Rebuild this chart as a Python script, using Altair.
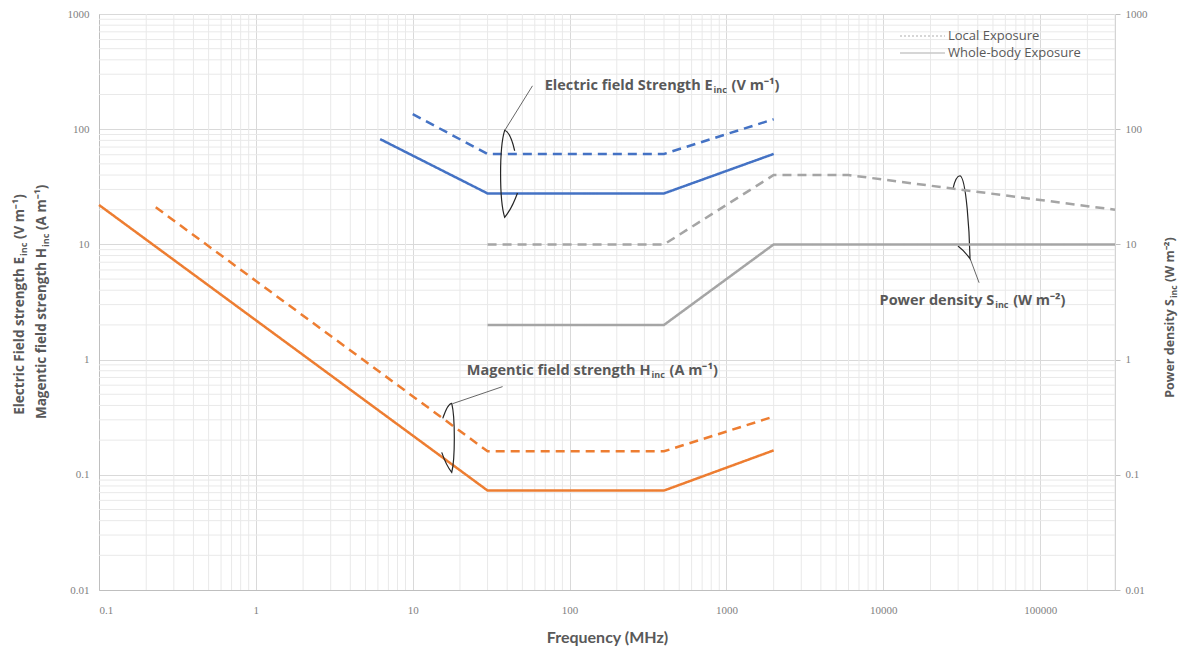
import altair as alt
import pandas as pd

# ---------------- data ----------------
LOCAL = "Local Exposure"
WHOLE = "Whole-body Exposure"

# Electric field strength E_inc (V m-1)
E_WHOLE_FREQ = [6.2, 30, 400, 2000]
E_WHOLE_VAL = [82, 27.7, 27.7, 61]
E_LOCAL_FREQ = [10, 30, 400, 2000]
E_LOCAL_VAL = [135, 61, 61, 122]

# Magnetic field strength H_inc (A m-1)
H_WHOLE_FREQ = [0.1, 30, 400, 2000]
H_WHOLE_VAL = [22, 0.073, 0.073, 0.163]
H_LOCAL_FREQ = [0.23, 30, 400, 2000]
H_LOCAL_VAL = [21, 0.16, 0.16, 0.32]

# Power density S_inc (W m-2) -- right axis
S_WHOLE_FREQ = [30, 400, 2000, 300000]
S_WHOLE_VAL = [2, 2, 10, 10]
S_LOCAL_FREQ = [30, 400, 2000, 6000, 300000]
S_LOCAL_VAL = [10, 10, 40, 40, 20]

X_TICKS = [0.1, 1, 10, 100, 1000, 10000, 100000]
Y_TICKS = [0.01, 0.1, 1, 10, 100, 1000]
X_DOMAIN = [0.1, 300000]
Y_DOMAIN = [0.01, 1000]
MINOR_STEPS = [2, 3, 4, 5, 6, 7, 8, 9]

X_MINOR = [k * d for d in X_TICKS for k in MINOR_STEPS if k * d <= X_DOMAIN[1]]
Y_MINOR = [k * d for d in Y_TICKS[:-1] for k in MINOR_STEPS]

BLUE, ORANGE, GREY = "#4472C4", "#ED7D31", "#A5A5A5"
TXT = "#595959"
FONT = "Open Sans"
TICKFONT = "Liberation Serif"


def series(q, exp, freqs, vals):
    return pd.DataFrame({"quantity": q, "exposure": exp, "freq": freqs, "value": vals})


left_df = pd.concat([
    series("E", WHOLE, E_WHOLE_FREQ, E_WHOLE_VAL),
    series("E", LOCAL, E_LOCAL_FREQ, E_LOCAL_VAL),
    series("H", WHOLE, H_WHOLE_FREQ, H_WHOLE_VAL),
    series("H", LOCAL, H_LOCAL_FREQ, H_LOCAL_VAL),
])
right_df = pd.concat([
    series("S", WHOLE, S_WHOLE_FREQ, S_WHOLE_VAL),
    series("S", LOCAL, S_LOCAL_FREQ, S_LOCAL_VAL),
])

xscale = alt.Scale(type="log", domain=X_DOMAIN, nice=False)
yscale = alt.Scale(type="log", domain=Y_DOMAIN, nice=False)
color = alt.Color("quantity:N", scale=alt.Scale(domain=["E", "H", "S"], range=[BLUE, ORANGE, GREY]), legend=None)
dash = alt.StrokeDash("exposure:N", scale=alt.Scale(domain=[LOCAL, WHOLE], range=[[9, 6], [1, 0]]), legend=None)

x_axis = alt.Axis(values=X_TICKS, format="~g", title="Frequency (MHz)", grid=True, gridColor="#d9d9d9",
                  ticks=False, domainColor="#bfbfbf", labelPadding=14, labelFont=TICKFONT, labelFontSize=11,
                  labelColor="#7f7f7f", titleFont="Lato", titleFontSize=16, titleFontWeight="bold",
                  titleColor=TXT, titlePadding=14)
y_axis_left = alt.Axis(orient="left", values=Y_TICKS, format="~g", title=None, grid=True, gridColor="#d9d9d9",
                       ticks=False, domainColor="#bfbfbf", labelPadding=10, labelFont=TICKFONT, labelFontSize=11,
                       labelColor="#7f7f7f")
y_axis_right = alt.Axis(orient="right", values=Y_TICKS, format="~g", title=None, grid=False,
                        ticks=True, tickSize=5, tickColor="#bfbfbf", domainColor="#bfbfbf", labelPadding=5,
                        labelFont=TICKFONT, labelFontSize=11, labelColor="#7f7f7f")

# minor grid
grid_x = alt.Chart(pd.DataFrame({"g": X_MINOR})).mark_rule(color="#e9e9e9", strokeWidth=1).encode(
    x=alt.X("g:Q", scale=xscale, axis=x_axis))
grid_y = alt.Chart(pd.DataFrame({"g": Y_MINOR})).mark_rule(color="#e9e9e9", strokeWidth=1).encode(
    y=alt.Y("g:Q", scale=yscale, axis=y_axis_left))

left_lines = alt.Chart(left_df).mark_line(strokeWidth=2.5).encode(
    x=alt.X("freq:Q", scale=xscale, axis=x_axis),
    y=alt.Y("value:Q", scale=yscale, axis=y_axis_left),
    color=color, strokeDash=dash, detail="exposure:N")

right_lines = alt.Chart(right_df).mark_line(strokeWidth=2.5).encode(
    x=alt.X("freq:Q", scale=xscale, axis=x_axis),
    y=alt.Y("value:Q", scale=yscale, axis=y_axis_right),
    color=color, strokeDash=dash, detail="exposure:N")


def label(fx, fy, text, size=14.5, align="left", dx=0, dy=0):
    return alt.Chart(pd.DataFrame({"x": [fx], "y": [fy], "t": [text]})).mark_text(
        font=FONT, fontWeight="bold", fontSize=size, color=TXT, align=align, baseline="middle", dx=dx, dy=dy
    ).encode(x=alt.X("x:Q", scale=xscale, axis=x_axis), y=alt.Y("y:Q", scale=yscale, axis=y_axis_left), text="t:N")


def sub_label(fx, fy, main, sub, unit):
    return [label(fx, fy, main, align="right"),
            label(fx, fy, sub, size=9, dx=1, dy=4),
            label(fx, fy, unit, dx=19)]


def leader(x1, y1, x2, y2):
    return alt.Chart(pd.DataFrame({"x": [x1], "y": [y1], "x2": [x2], "y2": [y2]})).mark_rule(
        color="#404040", strokeWidth=0.8
    ).encode(x=alt.X("x:Q", scale=xscale, axis=x_axis), y=alt.Y("y:Q", scale=yscale, axis=y_axis_left),
             x2="x2:Q", y2="y2:Q")


def loop(fx, fy, path, size):
    return alt.Chart(pd.DataFrame({"x": [fx], "y": [fy]})).mark_point(
        shape=path, size=size, filled=False, color="#262626", strokeWidth=1.2, opacity=1
    ).encode(x=alt.X("x:Q", scale=xscale, axis=x_axis), y=alt.Y("y:Q", scale=yscale, axis=y_axis_left))


E_PATH = "M 0.115,-0.53 Q 0.02,-0.95 -0.115,-1 C -0.24,-0.6 -0.24,0.6 -0.115,1 Q 0.05,0.8 0.18,0.44"
H_PATH = "M -0.2,-0.565 Q -0.05,-1 0.06,-1 C 0.16,-0.6 0.16,0.6 0.06,1 Q -0.1,0.8 -0.23,0.42"
S_PATH = "M -0.22,-0.69 Q -0.15,-1 -0.05,-1 C 0.1,-0.95 0.18,0.4 0.19,1 Q 0.05,0.8 -0.1,0.69"

annotations = []
annotations += sub_label(816, 238, "Electric field Strength E", "inc", "(V m\u207b\u00b9)")
annotations += sub_label(328, 0.80, "Magentic field strength H", "inc", "(A m\u207b\u00b9)")
annotations += sub_label(50900, 3.25, "Power density S", "inc", "(W m\u207b\u00b2)")
annotations += [leader(38.5, 97, 58, 238), leader(18.0, 0.415, 37.4, 0.583), leader(35800, 7.5, 40800, 4.65)]
annotations += [loop(41.5, 41.0, E_PATH, 7569), loop(17.2, 0.209, H_PATH, 4761), loop(31800, 17.2, S_PATH, 6889)]


# rotated axis titles (with subscripts)
def rot(text, px, py, size=13.5, align="left", dx=0, dy=0):
    return alt.Chart(pd.DataFrame({"t": [text]})).mark_text(
        font=FONT, fontWeight="bold", fontSize=size, color=TXT, angle=270, align=align, baseline="middle",
        dx=dx, dy=dy
    ).encode(x=alt.value(px), y=alt.value(py), text="t:N")


titles = [
    rot("Electric Field strength E", -79, 243, align="right"), rot("inc", -79, 243, size=9, dx=1, dy=4),
    rot("(V m\u207b\u00b9)", -79, 243, dx=18),
    rot("Magentic field strength H", -57, 234, align="right"), rot("inc", -57, 234, size=9, dx=1, dy=4),
    rot("(A m\u207b\u00b9)", -57, 234, dx=18),
    rot("Power density S", 1071, 285, size=12.5, align="right"), rot("inc", 1071, 285, size=8.5, dx=1, dy=4),
    rot("(W m\u207b\u00b2)", 1071, 285, size=12.5, dx=17),
]

# custom legend (top right)
legend_df = pd.DataFrame({"t": [LOCAL]})
legend = [
    alt.Chart(legend_df).mark_rule(color="#c9c9c9", strokeWidth=1.5, strokeDash=[2, 2]).encode(
        x=alt.value(801), x2=alt.value(846), y=alt.value(22)),
    alt.Chart(legend_df).mark_rule(color="#c9c9c9", strokeWidth=1.5).encode(
        x=alt.value(801), x2=alt.value(846), y=alt.value(39)),
    alt.Chart(pd.DataFrame({"t": [LOCAL]})).mark_text(font=FONT, fontSize=13, color=TXT, align="left",
                                                       baseline="middle").encode(
        x=alt.value(849), y=alt.value(22), text="t:N"),
    alt.Chart(pd.DataFrame({"t": [WHOLE]})).mark_text(font=FONT, fontSize=13, color=TXT, align="left",
                                                       baseline="middle").encode(
        x=alt.value(849), y=alt.value(39), text="t:N"),
]

left_group = alt.layer(grid_x, grid_y, left_lines, *annotations, *titles, *legend)
right_group = alt.layer(right_lines)

chart = alt.layer(left_group, right_group).resolve_scale(y="independent").properties(
    width=1016, height=576, padding={"left": 5, "top": 0, "right": 5, "bottom": 5}
).configure_view(strokeWidth=0).configure(background="white")

chart.save("out.html", embed_options={"renderer": "svg", "actions": False})
